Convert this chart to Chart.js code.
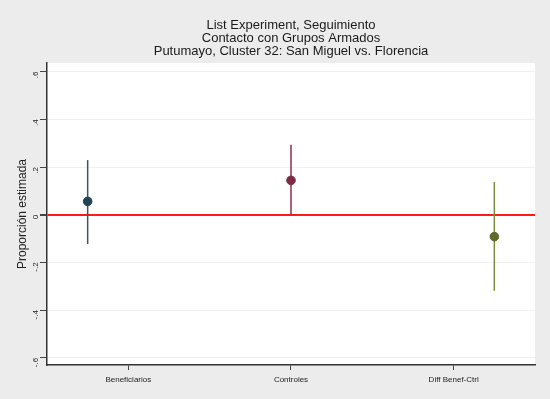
<!DOCTYPE html>
<html>
<head>
<meta charset="utf-8">
<script src="https://cdn.jsdelivr.net/npm/chart.js@4"></script>
<style>
html,body{margin:0;padding:0;background:#ececec;}
#wrap{width:550px;height:399px;}
</style>
</head>
<body>
<div id="wrap"><canvas id="c" width="550" height="399"></canvas></div>
<script>
const categories = ['Beneficiarios', 'Controles', 'Diff Benef-Ctrl'];
const catPositions = [1, 2, 3];
const labelPositions = [1.2, 2, 2.8];
const estimates = [0.056, 0.144, -0.092];
const ciLow = [-0.123, 0.0, -0.319];
const ciHigh = [0.229, 0.293, 0.137];
const yTicks = [-0.6, -0.4, -0.2, 0, 0.2, 0.4, 0.6];
const yTickLabels = ['-.6', '-.4', '-.2', '0', '.2', '.4', '.6'];
const pointColors = ['#1d4552', '#7e2a42', '#5f6b2c'];
const lineColors = ['#3c5560', '#8c2e4a', '#7f8a3a'];

const ciDatasets = categories.map((c, i) => ({
  type: 'line',
  label: c + ' IC',
  data: [{x: catPositions[i], y: ciLow[i]}, {x: catPositions[i], y: ciHigh[i]}],
  borderColor: lineColors[i],
  borderWidth: 1.5,
  pointRadius: 0,
  showLine: true,
  order: 2
}));

const pointDataset = {
  type: 'scatter',
  label: 'Estimado',
  data: categories.map((c, i) => ({x: catPositions[i], y: estimates[i]})),
  backgroundColor: pointColors,
  borderColor: pointColors,
  pointRadius: 4.3,
  order: 1
};

const bgPlugin = {
  id: 'plotBg',
  afterLayout(chart) {
    const t = chart.titleBlock;
    if (t) {
      t.left = chart.chartArea.left;
      t.right = chart.chartArea.right;
      t.width = t.right - t.left;
    }
  },
  beforeDraw(chart) {
    const {ctx, chartArea: a} = chart;
    ctx.save();
    ctx.fillStyle = '#ffffff';
    ctx.fillRect(a.left, a.top, a.right - a.left, a.bottom - a.top);
    ctx.restore();
  }
};

new Chart(document.getElementById('c'), {
  type: 'scatter',
  data: { datasets: [...ciDatasets, pointDataset] },
  plugins: [bgPlugin],
  options: {
    responsive: false,
    animation: false,
    layout: { padding: { left: 0, right: 15, top: 0, bottom: 0 } },
    plugins: {
      legend: { display: false },
      tooltip: { enabled: false },
      title: {
        display: true,
        text: ['List Experiment, Seguimiento', 'Contacto con Grupos Armados', 'Putumayo, Cluster 32: San Miguel vs. Florencia'],
        color: '#1a1a1a',
        font: { family: 'Liberation Sans', size: 13, weight: 'normal', lineHeight: 1.0 },
        padding: { top: 19, bottom: 5 }
      }
    },
    scales: {
      x: {
        type: 'linear',
        min: 0.8,
        max: 3.2,
        afterBuildTicks(scale) { scale.ticks = labelPositions.map(v => ({value: v})); },
        afterFit(scale) { scale.height = 34; },
        ticks: {
          callback: (v) => { const i = labelPositions.indexOf(v); return i >= 0 ? categories[i] : ''; },
          color: '#222',
          font: { family: 'Liberation Sans', size: 8 },
          maxRotation: 0, minRotation: 0,
          padding: 5
        },
        grid: { drawOnChartArea: false, drawTicks: true, tickLength: 5, tickColor: '#444', tickWidth: 1 },
        border: { display: true, color: '#333', width: 1.5 }
      },
      y: {
        type: 'linear',
        min: -0.63,
        max: 0.636,
        afterBuildTicks(scale) { scale.ticks = yTicks.map(v => ({value: v})); },
        afterFit(scale) { scale.width = 47; },
        ticks: {
          callback: (v) => { const i = yTicks.findIndex(t => Math.abs(t - v) < 1e-9); return i >= 0 ? yTickLabels[i] : ''; },
          color: '#222',
          font: { family: 'Liberation Sans', size: 8 },
          minRotation: 90, maxRotation: 90,
          padding: 4
        },
        title: {
          display: true,
          text: 'Proporción estimada',
          color: '#222',
          font: { family: 'Liberation Sans', size: 12 },
          padding: { top: 15, bottom: 4 }
        },
        grid: {
          drawTicks: true,
          tickLength: 7,
          tickColor: '#444',
          color: (ctx) => (ctx.tick && Math.abs(ctx.tick.value) < 1e-9) ? '#ff1a1a' : '#eef1f1',
          lineWidth: (ctx) => (ctx.tick && Math.abs(ctx.tick.value) < 1e-9) ? 2 : 1
        },
        border: { display: true, color: '#333', width: 1.5 }
      }
    }
  }
});
</script>
</body>
</html>
